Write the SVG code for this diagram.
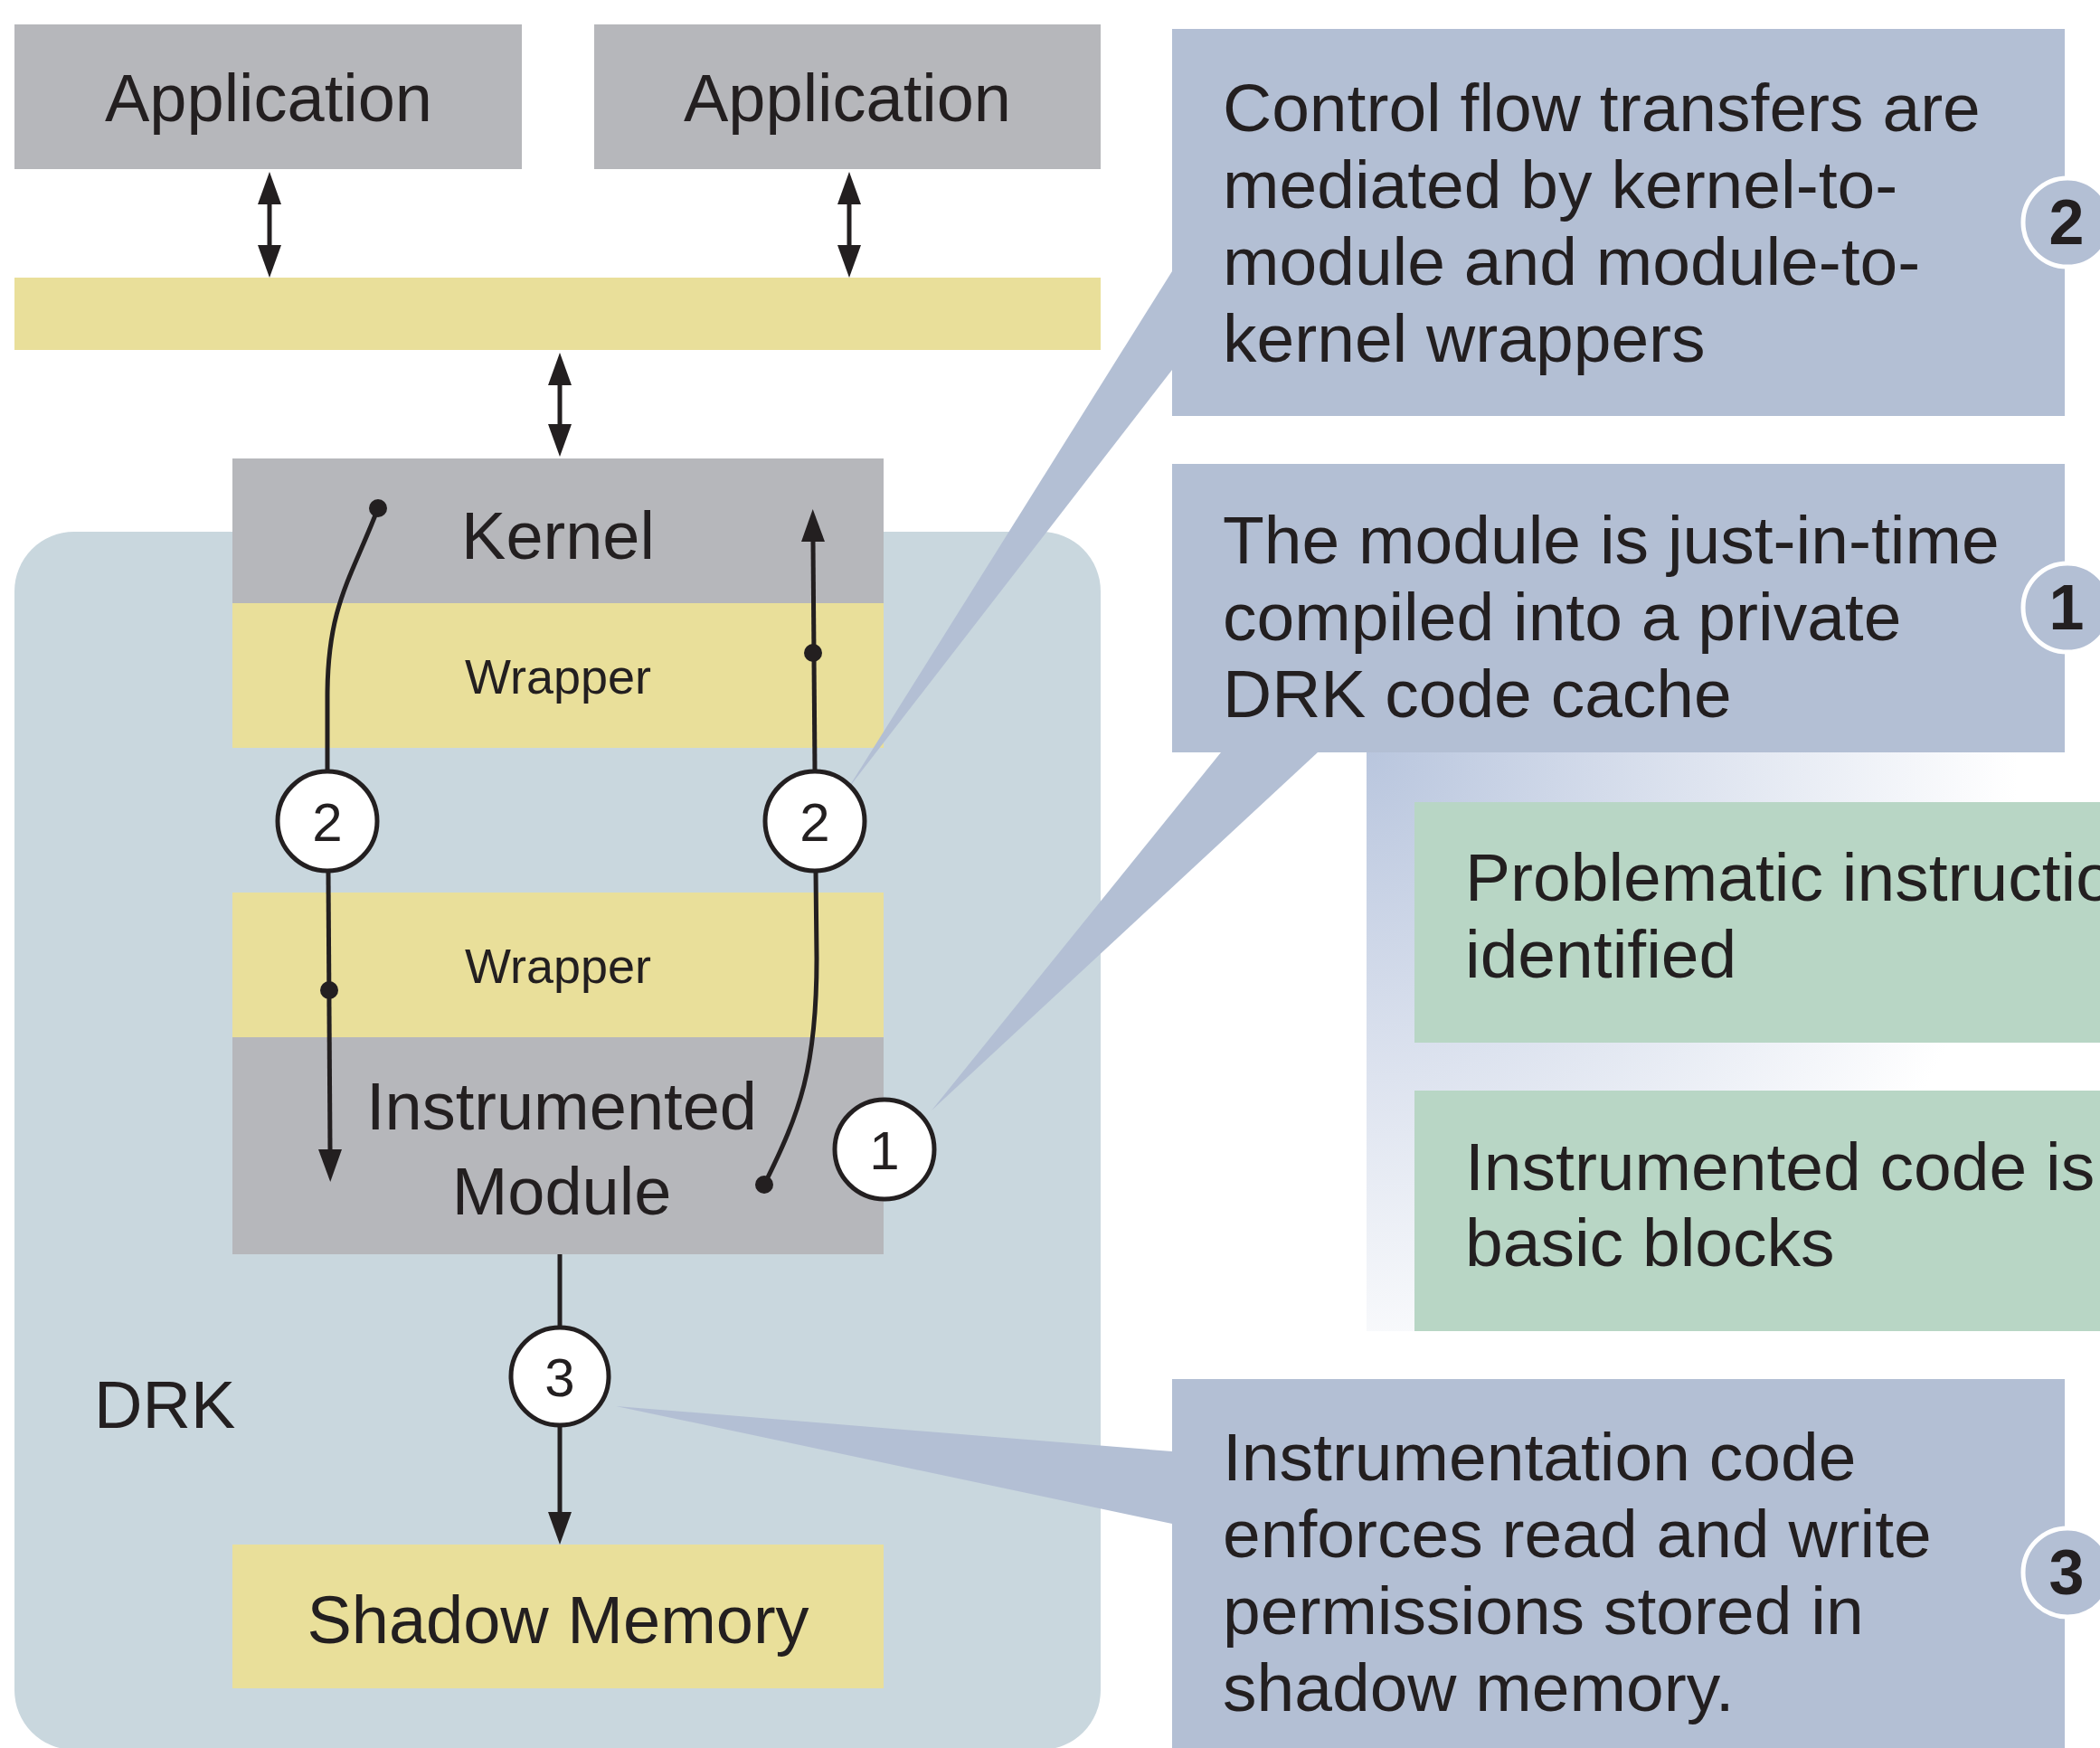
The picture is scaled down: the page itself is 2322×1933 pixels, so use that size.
<svg xmlns="http://www.w3.org/2000/svg" width="2322" height="1933" viewBox="0 0 2322 1933">
<defs>
<style>
.t{font-family:"Liberation Sans",Arial,sans-serif;fill:#231f20}
.big{font-size:74px}
.wr{font-size:54px}
.co{font-size:75px}
.num{font-size:60px}
.sn{font-size:70px;font-weight:bold}
.gray{fill:#b6b7bb}
.yel{fill:#e9df9a}
.call{fill:#b3bfd4}
.grn{fill:#b8d6c5}
.ln{fill:none;stroke:#231f20;stroke-width:5}
.arr{marker-end:url(#ah)}
.dbl{marker-start:url(#ah);marker-end:url(#ah)}
.circ{fill:#ffffff;stroke:#231f20;stroke-width:5}
.side{fill:#b3bfd4;stroke:#ffffff;stroke-width:5}
.dot{fill:#231f20}
</style>
<marker id="ah" markerUnits="userSpaceOnUse" markerWidth="38" markerHeight="28" refX="0" refY="13" orient="auto-start-reverse" viewBox="0 0 38 26">
<path d="M0,0 L36,13 L0,26 Z" fill="#231f20"/>
</marker>
<radialGradient id="fade" gradientUnits="userSpaceOnUse" cx="1511" cy="832" r="720">
<stop offset="0" stop-color="#b9c6de"/>
<stop offset="0.5" stop-color="#dde3ef"/>
<stop offset="1" stop-color="#ffffff"/>
</radialGradient>
</defs>

<g id="drk">
<rect x="16" y="588" width="1201" height="1347" rx="66" ry="66" fill="#c9d7de"/>
<text class="t big" x="104" y="1579">DRK</text>
</g>

<g id="app1"><rect class="gray" x="16" y="27" width="561" height="160"/><text class="t big" x="297" y="134" text-anchor="middle">Application</text></g>
<g id="app2"><rect class="gray" x="657" y="27" width="560" height="160"/><text class="t big" x="937" y="134" text-anchor="middle">Application</text></g>
<g id="bar"><rect class="yel" x="16" y="307" width="1201" height="80"/></g>

<g id="kernel"><rect class="gray" x="257" y="507" width="720" height="160"/><text class="t big" x="617" y="618" text-anchor="middle">Kernel</text></g>
<g id="wrapper1"><rect class="yel" x="257" y="667" width="720" height="160"/><text class="t wr" x="617" y="767" text-anchor="middle">Wrapper</text></g>
<g id="wrapper2"><rect class="yel" x="257" y="987" width="720" height="160"/><text class="t wr" x="617" y="1087" text-anchor="middle">Wrapper</text></g>
<g id="module"><rect class="gray" x="257" y="1147" width="720" height="240"/><text class="t big" x="621" y="1249" text-anchor="middle">Instrumented</text><text class="t big" x="621" y="1343" text-anchor="middle">Module</text></g>
<g id="shadow"><rect class="yel" x="257" y="1708" width="720" height="159"/><text class="t big" x="617" y="1817" text-anchor="middle">Shadow Memory</text></g>

<g id="pointers">
<polygon class="call" points="937,873 1296,300 1296,409"/>
<polygon class="call" points="1030,1228 1350,832 1457,832"/>
<polygon class="call" points="681,1555 1296,1605 1296,1685"/>
</g>

<g id="connectors">
<path class="ln dbl" d="M298,226 L298,271"/>
<path class="ln dbl" d="M939,226 L939,271"/>
<path class="ln dbl" d="M619,426 L619,469"/>
<path class="ln" d="M418,562 C388,640 362,670 362,770 L362,852"/>
<path class="ln arr" d="M363,964 L365,1271"/>
<path class="ln arr" d="M901,852 L899,599"/>
<path class="ln" d="M902,964 L903,1060 C903,1180 885,1230 845,1310"/>
<path class="ln" d="M619,1387 L619,1468"/>
<path class="ln arr" d="M619,1576 L619,1672"/>
<circle class="dot" cx="418" cy="562" r="10"/>
<circle class="dot" cx="364" cy="1095" r="10"/>
<circle class="dot" cx="899" cy="722" r="10"/>
<circle class="dot" cx="845" cy="1310" r="10"/>
</g>

<g id="c2left"><circle class="circ" cx="362" cy="908" r="55"/><text class="t num" x="362" y="930" text-anchor="middle">2</text></g>
<g id="c2right"><circle class="circ" cx="901" cy="908" r="55"/><text class="t num" x="901" y="930" text-anchor="middle">2</text></g>
<g id="c1"><circle class="circ" cx="978" cy="1271" r="55"/><text class="t num" x="978" y="1293" text-anchor="middle">1</text></g>
<g id="c3"><circle class="circ" cx="619" cy="1522" r="54"/><text class="t num" x="619" y="1544" text-anchor="middle">3</text></g>

<g id="callout2">
<rect class="call" x="1296" y="32" width="987" height="428"/>
<text class="t co" x="1352" y="145">Control flow transfers are</text>
<text class="t co" x="1352" y="230">mediated by kernel-to-</text>
<text class="t co" x="1352" y="315">module and module-to-</text>
<text class="t co" x="1352" y="400">kernel wrappers</text>
<circle class="side" cx="2286" cy="246" r="49"/>
<text class="t sn" x="2285" y="270" text-anchor="middle">2</text>
</g>

<g id="callout1">
<rect class="call" x="1296" y="513" width="987" height="319"/>
<text class="t co" x="1352" y="623">The module is just-in-time</text>
<text class="t co" x="1352" y="708">compiled into a private</text>
<text class="t co" x="1352" y="793">DRK code cache</text>
<circle class="side" cx="2286" cy="672" r="49"/>
<text class="t sn" x="2285" y="696" text-anchor="middle">1</text>
</g>

<g id="panel">
<rect x="1511" y="832" width="811" height="640" fill="url(#fade)"/>
</g>
<g id="green1">
<rect class="grn" x="1564" y="887" width="758" height="266"/>
<text class="t co" x="1620" y="996">Problematic instructio</text>
<text class="t co" x="1620" y="1081">identified</text>
</g>
<g id="green2">
<rect class="grn" x="1564" y="1206" width="758" height="266"/>
<text class="t co" x="1620" y="1316">Instrumented code is</text>
<text class="t co" x="1620" y="1400">basic blocks</text>
</g>

<g id="callout3">
<rect class="call" x="1296" y="1525" width="987" height="420"/>
<text class="t co" x="1352" y="1637">Instrumentation code</text>
<text class="t co" x="1352" y="1722">enforces read and write</text>
<text class="t co" x="1352" y="1807">permissions stored in</text>
<text class="t co" x="1352" y="1892">shadow memory.</text>
<circle class="side" cx="2286" cy="1739" r="49"/>
<text class="t sn" x="2285" y="1763" text-anchor="middle">3</text>
</g>
</svg>
